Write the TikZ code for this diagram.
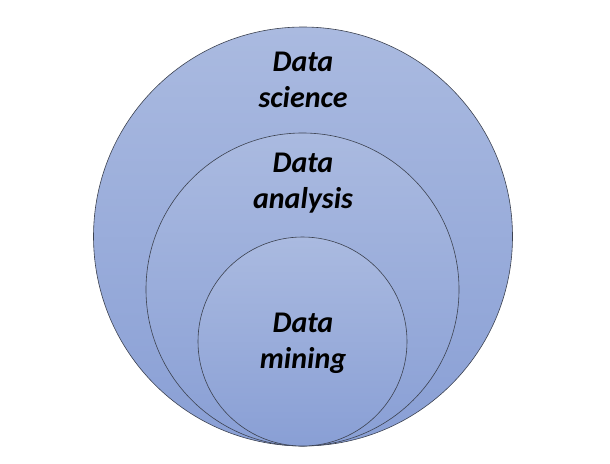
\documentclass[tikz,border=0pt]{standalone}
\usepackage{fontspec}
\setmainfont{Carlito}
\usetikzlibrary{positioning}

\definecolor{ringtop}{HTML}{AABAE0}
\definecolor{ringbot}{HTML}{899FD5}
\definecolor{ringline}{HTML}{3C4250}

\tikzset{
  ring/.style={draw=ringline, line width=0.6pt, circle, inner sep=0pt,
    top color=ringtop, bottom color=ringbot, minimum size=#1},
  lbl/.style={align=center, font=\fontsize{30}{36}\selectfont\bfseries\itshape}
}

\begin{document}
\begin{tikzpicture}[x=1pt, y=-1pt]
        \useasboundingbox (0,0) rectangle (610,463);

        \node[ring=419pt] (c1) at (303,236.5) {};
        \node[ring=313pt] (c2) at (302.5,289.5) {};
        \node[ring=209pt] (c3) at (302.5,341.5) {};

        \node[lbl] (t1) at (303,80) {Data\\science};
        \node[lbl] (t2) at (303,183) {Data\\analysis};
        \node[lbl] (t3) at (303,343) {Data\\mining};

      \end{tikzpicture}
\end{document}
